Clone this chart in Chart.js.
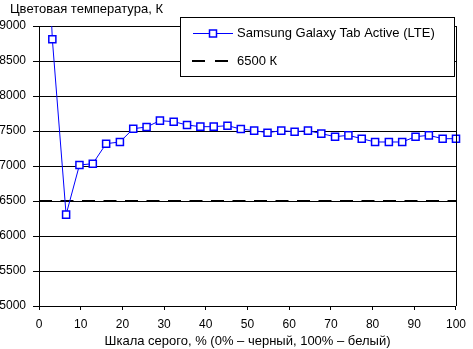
<!DOCTYPE html>
<html>
<head>
<meta charset="utf-8">
<script src="https://cdn.jsdelivr.net/npm/chart.js@4.4.1/dist/chart.umd.min.js"></script>
<style>
  html, body { margin: 0; padding: 0; background: #fff; }
</style>
</head>
<body>
<canvas id="chart" width="473" height="349"></canvas>
<script>
// Grey level (%) of each measured field
const grayLevels = [0, 3.2, 6.5, 9.7, 12.9, 16.1, 19.4, 22.6, 25.8, 29.0, 32.3, 35.5, 38.7, 41.9, 45.2, 48.4,
  51.6, 54.8, 58.1, 61.3, 64.5, 67.7, 71.0, 74.2, 77.4, 80.6, 83.9, 87.1, 90.3, 93.5, 96.8, 100];
// Measured colour temperature, K (first value is off the top of the chart)
const colorTemp = [13000, 8810, 6305, 7014, 7033, 7319, 7343, 7533, 7557, 7648, 7633, 7586, 7562, 7562, 7576, 7529,
  7505, 7476, 7505, 7490, 7505, 7462, 7419, 7438, 7390, 7343, 7343, 7343, 7419, 7438, 7390, 7390];
// Reference white point
const refLevels = [0, 100];
const refTemp = [6500, 6500];

const seriesName = 'Samsung Galaxy Tab Active (LTE)';
const refName = '6500 К';
const yTitle = 'Цветовая температура, К';
const xTitle = 'Шкала серого, % (0% – черный, 100% – белый)';

const FONT = 'Liberation Sans, Arial, sans-serif';
const BLUE = '#0000ff';

// Title, right frame edge and the boxed legend
const overlay = {
  id: 'overlay',
  afterDraw(chart) {
    const ctx = chart.ctx;
    const area = chart.chartArea;
    ctx.save();

    // right edge of plot
    ctx.strokeStyle = '#000';
    ctx.lineWidth = 1;
    ctx.beginPath();
    ctx.moveTo(Math.round(area.right) + 0.5, area.top);
    ctx.lineTo(Math.round(area.right) + 0.5, area.bottom);
    ctx.stroke();

    // axis title at top-left
    ctx.fillStyle = '#000';
    ctx.font = '13px ' + FONT;
    ctx.textBaseline = 'middle';
    ctx.textAlign = 'left';
    ctx.fillText(yTitle, 10, 9);

    // legend box
    const ds = chart.data.datasets;
    ctx.fillStyle = '#fff';
    ctx.fillRect(180.5, 17.5, 274, 59);
    ctx.strokeStyle = '#000';
    ctx.strokeRect(180.5, 17.5, 274, 59);

    // entry 1
    ctx.strokeStyle = BLUE;
    ctx.lineWidth = 1;
    ctx.beginPath();
    ctx.moveTo(193, 33.5);
    ctx.lineTo(233, 33.5);
    ctx.stroke();
    ctx.lineWidth = 1.5;
    ctx.fillStyle = '#fff';
    ctx.fillRect(209.5, 30, 7, 7);
    ctx.strokeRect(209.5, 30, 7, 7);
    ctx.fillStyle = '#000';
    ctx.fillText(ds[0].label, 237, 33.5);

    // entry 2
    ctx.strokeStyle = '#000';
    ctx.lineWidth = 2;
    ctx.beginPath();
    ctx.moveTo(192, 61); ctx.lineTo(205, 61);
    ctx.moveTo(215, 61); ctx.lineTo(228, 61);
    ctx.stroke();
    ctx.fillText(ds[1].label, 237, 61);

    ctx.restore();
  }
};

new Chart(document.getElementById('chart'), {
  type: 'line',
  data: {
    datasets: [
      {
        label: seriesName,
        data: grayLevels.map((x, i) => ({ x: x, y: colorTemp[i] })),
        borderColor: BLUE,
        borderWidth: 1,
        pointStyle: 'rect',
        pointRadius: 5,
        pointBorderWidth: 1.5,
        pointBorderColor: BLUE,
        pointBackgroundColor: '#fff',
        tension: 0,
        clip: { top: 0, left: 8, right: 8, bottom: 8 }
      },
      {
        label: refName,
        data: refLevels.map((x, i) => ({ x: x, y: refTemp[i] })),
        borderColor: '#000',
        borderWidth: 2,
        borderDash: [13, 8.5],
        pointRadius: 0,
        tension: 0
      }
    ]
  },
  options: {
    responsive: false,
    animation: false,
    devicePixelRatio: 1,
    layout: { padding: { top: 26, right: 10, left: 0, bottom: 0 } },
    plugins: {
      legend: { display: false },
      tooltip: { enabled: false }
    },
    scales: {
      x: {
        type: 'linear',
        min: 0,
        max: 100,
        afterFit(scale) { scale.height = 43; },
        grid: { drawOnChartArea: false, drawTicks: true, tickLength: 4, color: '#000' },
        border: { display: true, color: '#000', width: 1 },
        ticks: {
          stepSize: 10,
          color: '#000',
          padding: 7,
          maxRotation: 0,
          callback: v => String(v),
          font: { family: FONT, size: 12 }
        },
        title: {
          display: true,
          text: xTitle,
          color: '#000',
          padding: { top: 0, bottom: 0 },
          font: { family: FONT, size: 13 }
        }
      },
      y: {
        min: 5000,
        max: 9000,
        afterFit(scale) { scale.width = 39; },
        grid: { color: '#000', lineWidth: 1, drawTicks: true, tickLength: 6 },
        border: { display: true, color: '#000', width: 1 },
        ticks: {
          stepSize: 500,
          color: '#000',
          padding: 7,
          callback: v => String(v),
          font: { family: FONT, size: 12 }
        }
      }
    }
  },
  plugins: [overlay]
});
</script>
</body>
</html>
